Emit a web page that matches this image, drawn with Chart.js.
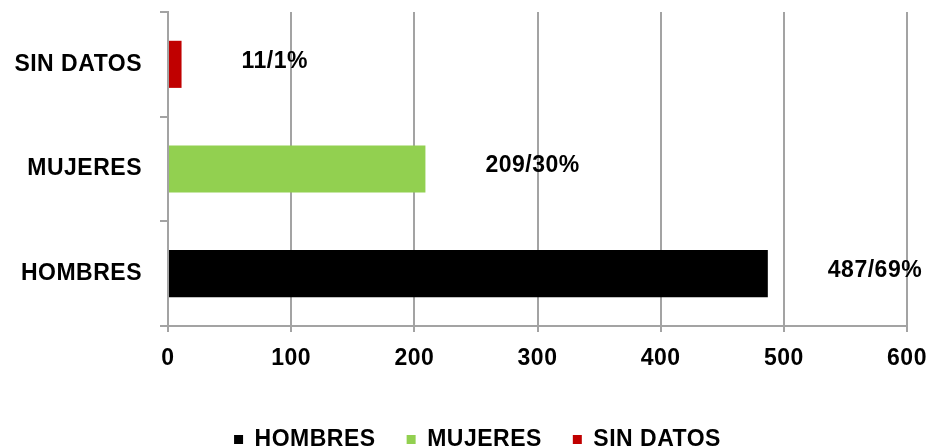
<!DOCTYPE html>
<html>
<head>
<meta charset="utf-8">
<script src="https://cdn.jsdelivr.net/npm/chart.js@4.4.1/dist/chart.umd.min.js"></script>
<style>
  html, body { margin: 0; padding: 0; background: #fff; overflow: hidden; }
  #wrap { width: 930px; height: 461px; }
</style>
</head>
<body>
<div id="wrap"><canvas id="myChart"></canvas></div>
<script>
var categorias = ["SIN DATOS", "MUJERES", "HOMBRES"];
var series = ["HOMBRES", "MUJERES", "SIN DATOS"];
var valores = [487, 209, 11];
var porcentajes = [69, 30, 1];
var colores = ['#000000', '#92d050', '#c00000'];
var ticksX = [0, 100, 200, 300, 400, 500, 600];

var fuente = '"Liberation Sans", Arial, sans-serif';
var gris = '#a3a3a3';

// un dataset por serie, cada uno solo en su categoria
var datasets = series.map(function (s, i) {
  var d = categorias.map(function (c) { return c === s ? valores[i] : null; });
  return {
    label: s,
    data: d,
    backgroundColor: colores[i],
    borderWidth: 0,
    barPercentage: 0.45,
    categoryPercentage: 1
  };
});

// espaciado de letras un poco mas abierto
var espaciado = {
  id: 'espaciado',
  beforeLayout: function (chart) { chart.ctx.letterSpacing = '0.5px'; },
  beforeDraw: function (chart) { chart.ctx.letterSpacing = '0.5px'; },
  // la leyenda va centrada bajo el area del grafico, no bajo todo el lienzo
  afterLayout: function (chart) {
    chart.legend.left += 24;
    chart.legend.right += 24;
  }
};

// etiquetas "valor/porcentaje" a la derecha de cada barra
var etiquetas = {
  id: 'etiquetas',
  afterDatasetsDraw: function (chart) {
    var ctx = chart.ctx;
    ctx.save();
    ctx.font = 'bold 23px ' + fuente;
    ctx.fillStyle = '#000';
    ctx.textAlign = 'left';
    ctx.textBaseline = 'middle';
    chart.data.datasets.forEach(function (ds, i) {
      var meta = chart.getDatasetMeta(i);
      meta.data.forEach(function (el, j) {
        if (ds.data[j] == null) return;
        ctx.fillText(valores[i] + '/' + porcentajes[i] + '%', el.x + 60, el.y - 3);
      });
    });
    ctx.restore();
  }
};

var ctx = document.getElementById("myChart").getContext('2d');
var myChart = new Chart(ctx, {
  type: 'bar',
  data: {
    labels: categorias,
    datasets: datasets
  },
  options: {
    indexAxis: 'y',
    responsive: true,
    maintainAspectRatio: false,
    animation: false,
    layout: { padding: { top: 12, right: 23, left: 0, bottom: 0 } },
    scales: {
      x: {
        min: 0,
        max: 600,
        afterBuildTicks: function (axis) {
          axis.ticks = ticksX.map(function (v) { return { value: v }; });
        },
        afterFit: function (scale) {
          scale.height = 71;
          scale.paddingLeft = 0;
          scale.paddingRight = 0;
        },
        grid: { color: gris, lineWidth: 2, tickLength: 6 },
        border: { color: gris, width: 2 },
        ticks: {
          color: '#000',
          padding: 13,
          font: { family: fuente, size: 23, weight: 'bold' }
        }
      },
      y: {
        stacked: true,
        afterFit: function (scale) {
          scale.width = 168;
          scale.paddingTop = 0;
          scale.paddingBottom = 0;
        },
        grid: { drawOnChartArea: false, color: gris, lineWidth: 2, tickLength: 8 },
        border: { color: gris, width: 2 },
        ticks: {
          color: '#000',
          padding: 18,
          font: { family: fuente, size: 23, weight: 'bold' }
        }
      }
    },
    plugins: {
      legend: {
        position: 'bottom',
        labels: {
          color: '#000',
          boxWidth: 9,
          boxHeight: 9,
          padding: 31,
          font: { family: fuente, size: 23, weight: 'bold' }
        }
      },
      tooltip: { enabled: false }
    }
  },
  plugins: [espaciado, etiquetas]
});
</script>
</body>
</html>
